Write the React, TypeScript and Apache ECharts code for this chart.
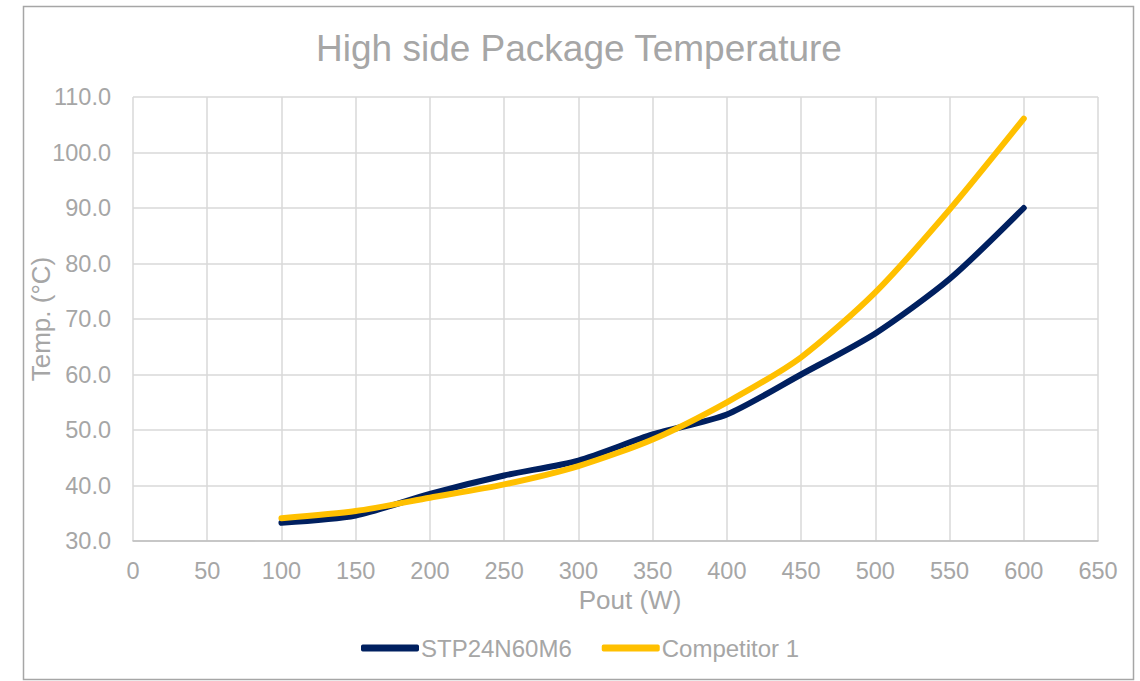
import React, { useEffect, useRef } from "react";
import * as echarts from "echarts";

const pout = [100, 150, 200, 250, 300, 350, 400, 450, 500, 550, 600];
const stpTemp = [33.3, 34.6, 38.5, 41.8, 44.5, 49.2, 52.8, 60.0, 67.4, 77.2, 90.0];
const competitorTemp = [34.1, 35.4, 37.8, 40.2, 43.5, 48.3, 55.0, 63.1, 74.8, 89.7, 106.1];
const seriesNames = ["STP24N60M6", "Competitor 1"];

const FONT = "'Liberation Sans', Arial, sans-serif";
const TEXT = "#A6A6A6";

export default function App() {
  const ref = useRef<HTMLDivElement>(null);
  useEffect(() => {
    document.body.style.margin = "0";
    if (!ref.current) return;
    const chart = echarts.init(ref.current, undefined, { renderer: "svg" });
    const toPairs = (ys: number[]) => pout.map((x, i) => [x, ys[i]]);
    chart.setOption({
      animation: false,
      backgroundColor: "#ffffff",
      title: {
        text: "High side Package Temperature",
        left: 579,
        top: 30,
        padding: 0,
        textAlign: "center",
        textStyle: { color: TEXT, fontFamily: FONT, fontSize: 37, fontWeight: "normal" },
      },
      graphic: [
        {
          type: "rect",
          shape: { x: 23.5, y: 6.5, width: 1110, height: 673 },
          style: { fill: "none", stroke: "#A6A6A6", lineWidth: 1.5 },
          silent: true,
        },
      ],
      legend: {
        left: 356,
        top: 631,
        icon: "roundRect",
        itemWidth: 58,
        itemHeight: 7,
        itemGap: 30,
        data: seriesNames,
        textStyle: { color: TEXT, fontFamily: FONT, fontSize: 24, padding: [0, 0, 0, -3] },
      },
      grid: { left: 133, right: 42, top: 97, bottom: 140, containLabel: false },
      xAxis: {
        type: "value",
        min: 0,
        max: 650,
        interval: 50,
        name: "Pout (W)",
        nameLocation: "middle",
        nameGap: 46,
        nameMoveOverlap: false,
        nameTextStyle: { color: TEXT, fontFamily: FONT, fontSize: 26, padding: [0, 0, 0, 29] },
        axisLine: { show: true, lineStyle: { color: "#BFBFBF", width: 1.5 } },
        axisTick: { show: false },
        axisLabel: { color: TEXT, fontFamily: FONT, fontSize: 23.5, margin: 18 },
        splitLine: { show: true, lineStyle: { color: "#D9D9D9", width: 1.5 } },
      },
      yAxis: {
        type: "value",
        min: 30,
        max: 110,
        interval: 10,
        name: "Temp. (°C)",
        nameLocation: "middle",
        nameRotate: 90,
        nameGap: 79,
        nameMoveOverlap: false,
        nameTextStyle: { color: TEXT, fontFamily: FONT, fontSize: 26 },
        axisLine: { show: false },
        axisTick: { show: false },
        axisLabel: {
          color: TEXT,
          fontFamily: FONT,
          fontSize: 23.5,
          margin: 22,
          formatter: (v: number) => v.toFixed(1),
        },
        splitLine: { show: true, lineStyle: { color: "#D9D9D9", width: 1.5 } },
      },
      series: [
        {
          name: seriesNames[0],
          type: "line",
          data: toPairs(stpTemp),
          smooth: 0.25,
          showSymbol: false,
          symbol: "none",
          color: "#002060",
          lineStyle: { color: "#002060", width: 6, cap: "round", join: "round" },
          z: 2,
        },
        {
          name: seriesNames[1],
          type: "line",
          data: toPairs(competitorTemp),
          smooth: 0.25,
          showSymbol: false,
          symbol: "none",
          color: "#FFC000",
          lineStyle: { color: "#FFC000", width: 6, cap: "round", join: "round" },
          z: 3,
        },
      ],
    });
    return () => chart.dispose();
  }, []);
  return <div ref={ref} style={{ width: 1140, height: 681 }} />;
}
